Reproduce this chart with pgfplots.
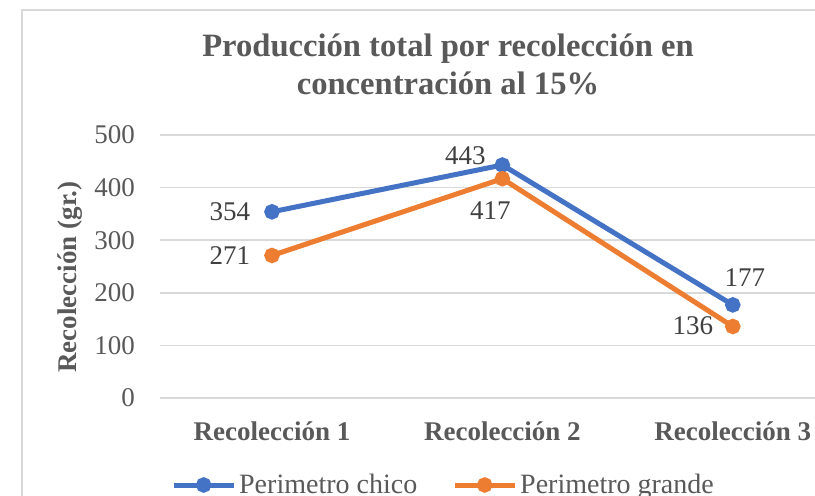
\documentclass[border=0pt]{standalone}
\usepackage{pgfplots}
\pgfplotsset{compat=1.18}
\usepackage{pgfplotstable}
\usepackage{fontspec}
\setmainfont{Liberation Serif}
\definecolor{cblue}{HTML}{4472C4}
\definecolor{corange}{HTML}{ED7D31}
\definecolor{txt}{HTML}{595959}
\definecolor{lbl}{HTML}{404040}
\definecolor{gridc}{HTML}{D9D9D9}

\pgfplotstableread{
x y dx dy
1 354 -21 0
2 443 -18.5 4.75
3 177 6 13.5
}\chico
\pgfplotstableread{
x y dx dy
1 271 -21 0
2 417 -6 -16
3 136 -20 0.5
}\grande

\begin{document}
\begin{tikzpicture}
\useasboundingbox (0,0) rectangle (407.5pt,247.5pt);
\clip (0,0) rectangle (407.5pt,247.5pt);
\fill[white] (0,0) rectangle (407.5pt,247.5pt);
\draw[gridc, line width=1pt] (11pt,-20pt) rectangle (430pt,242.5pt);
\begin{axis}[
  at={(80pt,48.5pt)}, anchor=south west,
  scale only axis, width=344pt, height=131.5pt,
  xmin=0.514, xmax=3.5, ymin=0, ymax=500,
  xtick={1,2,3},
  xticklabels={Recolección 1,Recolección 2,Recolección 3},
  ytick={0,100,200,300,400,500},
  /pgf/number format/assume math mode=true,
  major tick length=0pt,
  axis line style={draw=none},
  xmajorgrids=false,
  ymajorgrids=true, 
  y grid style={gridc, line width=0.8pt},
  tick label style={font=\fontsize{13.5}{16}\selectfont, text=txt},
  xticklabel style={font=\bfseries\fontsize{13.5}{16}\selectfont, yshift=-8.5pt},
  yticklabel style={xshift=-9pt},
  title={Producción total por recolección en\\concentración al 15\%},
  title style={at={(axis description cs:0.4186,1.2244)}, anchor=center, align=center,
    font=\bfseries\fontsize{16.3}{19}\selectfont, text=txt},
  ylabel={Recolección (gr.)},
  every axis y label/.style={at={(axis description cs:-0.1308,0.46)}, rotate=90, anchor=center,
    font=\bfseries\fontsize{13.5}{16}\selectfont, text=txt},
  legend columns=2,
  legend style={at={(axis description cs:0.4128,-0.3308)}, anchor=center, draw=none, fill=none,
    font=\fontsize{14}{16}\selectfont, text=txt,
    nodes={inner sep=1.5pt},
    /tikz/every even column/.append style={column sep=16pt}},
  legend image code/.code={\draw[mark repeat=2,mark phase=2,#1] plot coordinates {(0pt,0pt) (15pt,0pt) (30pt,0pt)};},
  point meta=explicit symbolic,
  nodes near coords=\pgfplotspointmeta,
  visualization depends on={\thisrow{dx}\as\mydx},
  visualization depends on={\thisrow{dy}\as\mydy},
  every node near coord/.append style={anchor=center, xshift=\mydx pt, yshift=\mydy pt,
    font=\fontsize{13.5}{16}\selectfont, text=lbl},
]
\addplot[cblue, line width=2.5pt, mark=*, mark size=2.6pt, mark options={solid, fill=cblue}]
  table[x=x, y=y, meta=y] {\chico};
\addlegendentry{Perimetro chico}
\addplot[corange, line width=2.5pt, mark=*, mark size=2.6pt, mark options={solid, fill=corange}]
  table[x=x, y=y, meta=y] {\grande};
\addlegendentry{Perimetro grande}
\end{axis}
\end{tikzpicture}
\end{document}
